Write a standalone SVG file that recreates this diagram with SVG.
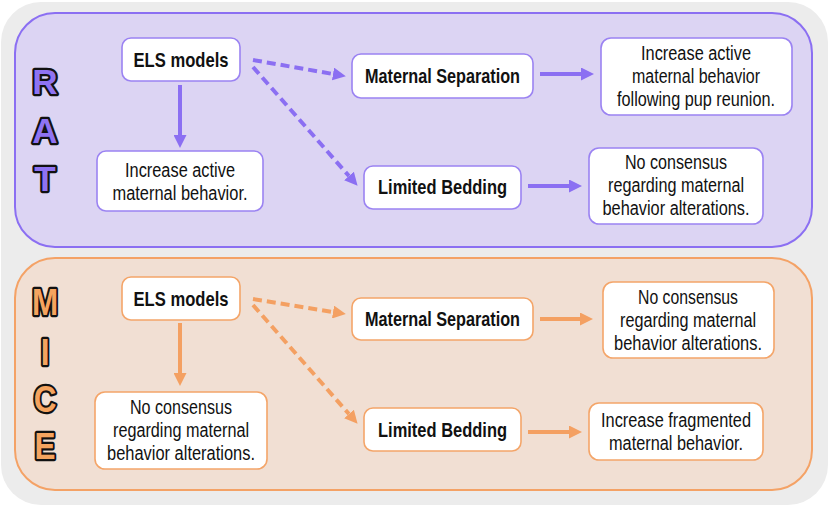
<svg xmlns="http://www.w3.org/2000/svg" width="829" height="507" viewBox="0 0 829 507">
<style>
.bg{fill:#ececec}
.pr{fill:#dcd4f3;stroke:#8b6ff2;stroke-width:2}
.po{fill:#f1dfd3;stroke:#f4a266;stroke-width:2}
.np{fill:#fff;stroke:#9b83f2;stroke-width:1.6}
.no{fill:#fff;stroke:#f4a569;stroke-width:1.6}
text{font-family:"Liberation Sans Narrow","Liberation Sans",Arial,sans-serif;fill:#111;text-anchor:middle}
.b{font-weight:bold;font-size:21px}
.r{font-size:20px}
.big{font-family:"Liberation Sans",Arial,sans-serif;font-weight:bold;stroke:#111;stroke-width:4.5;paint-order:stroke;stroke-linejoin:round}
.lp{fill:#8f73f2;font-size:35px}
.lo{fill:#f5a45f;font-size:37px}
.ap{stroke:#8b6ff2;stroke-width:4;fill:none}
.ao{stroke:#f4a062;stroke-width:4;fill:none}
.d{stroke-dasharray:9 5}
</style>
<defs>
<marker id="hp" markerUnits="userSpaceOnUse" markerWidth="13" markerHeight="13" viewBox="0 0 13 13" refX="0" refY="6.5" orient="auto"><path d="M0,0 L13,6.5 L0,13 z" fill="#8b6ff2"/></marker>
<marker id="ho" markerUnits="userSpaceOnUse" markerWidth="13" markerHeight="13" viewBox="0 0 13 13" refX="0" refY="6.5" orient="auto"><path d="M0,0 L13,6.5 L0,13 z" fill="#f4a062"/></marker>
</defs>
<rect class="bg" x="1" y="2" width="827" height="503" rx="40"/>
<g id="panel-rat">
<rect class="pr" x="15" y="13" width="797" height="234" rx="40"/>
<text class="big lp" x="45" y="94">R</text>
<text class="big lp" x="45" y="143">A</text>
<text class="big lp" x="45" y="191">T</text>
</g>
<g id="panel-mice">
<rect class="po" x="15" y="258" width="797" height="232" rx="40"/>
<g transform="translate(45,0) scale(0.85,1)">
<text class="big lo" x="0" y="315">M</text>
<text class="big lo" x="0" y="365">I</text>
<text class="big lo" x="0" y="412">C</text>
<text class="big lo" x="0" y="459">E</text>
</g>
</g>
<g id="connectors">
<line class="ap" x1="180" y1="85" x2="180" y2="135" marker-end="url(#hp)"/>
<line class="ap d" x1="253" y1="60" x2="333" y2="74" marker-end="url(#hp)"/>
<line class="ap d" x1="253" y1="67" x2="349" y2="176" marker-end="url(#hp)"/>
<line class="ap" x1="540" y1="74" x2="581" y2="74" marker-end="url(#hp)"/>
<line class="ap" x1="528" y1="186" x2="569" y2="186" marker-end="url(#hp)"/>
<line class="ao" x1="180" y1="323" x2="180" y2="373" marker-end="url(#ho)"/>
<line class="ao d" x1="253" y1="299" x2="333" y2="312" marker-end="url(#ho)"/>
<line class="ao d" x1="253" y1="305" x2="349" y2="414" marker-end="url(#ho)"/>
<line class="ao" x1="540" y1="319" x2="580" y2="319" marker-end="url(#ho)"/>
<line class="ao" x1="528" y1="432" x2="569" y2="432" marker-end="url(#ho)"/>
</g>
<g id="rat-els">
<rect class="np" x="122" y="38" width="118" height="43" rx="9"/>
<text class="b" x="181" y="67" textLength="95" lengthAdjust="spacingAndGlyphs">ELS models</text>
</g>
<g id="rat-increase-active">
<rect class="np" x="97" y="151" width="166" height="60" rx="9"/>
<text class="r" x="180" y="177" textLength="110" lengthAdjust="spacingAndGlyphs">Increase active</text>
<text class="r" x="180" y="200" textLength="135" lengthAdjust="spacingAndGlyphs">maternal behavior.</text>
</g>
<g id="rat-ms">
<rect class="np" x="352" y="54" width="181" height="44" rx="9"/>
<text class="b" x="442.5" y="83" textLength="155" lengthAdjust="spacingAndGlyphs">Maternal Separation</text>
</g>
<g id="rat-ms-result">
<rect class="np" x="601" y="38" width="191" height="77" rx="10"/>
<text class="r" x="696" y="60" textLength="110" lengthAdjust="spacingAndGlyphs">Increase active</text>
<text class="r" x="696" y="83" textLength="128" lengthAdjust="spacingAndGlyphs">maternal behavior</text>
<text class="r" x="696" y="106" textLength="158" lengthAdjust="spacingAndGlyphs">following pup reunion.</text>
</g>
<g id="rat-lb">
<rect class="np" x="364" y="166" width="157" height="43" rx="9"/>
<text class="b" x="442.5" y="194" textLength="129" lengthAdjust="spacingAndGlyphs">Limited Bedding</text>
</g>
<g id="rat-lb-result">
<rect class="np" x="589" y="148" width="174" height="76" rx="10"/>
<text class="r" x="676" y="169" textLength="102" lengthAdjust="spacingAndGlyphs">No consensus</text>
<text class="r" x="676" y="192" textLength="136" lengthAdjust="spacingAndGlyphs">regarding maternal</text>
<text class="r" x="676" y="215" textLength="147" lengthAdjust="spacingAndGlyphs">behavior alterations.</text>
</g>
<g id="mice-els">
<rect class="no" x="122" y="277" width="118" height="43" rx="9"/>
<text class="b" x="181" y="306" textLength="95" lengthAdjust="spacingAndGlyphs">ELS models</text>
</g>
<g id="mice-no-consensus">
<rect class="no" x="95" y="392" width="172" height="77" rx="10"/>
<text class="r" x="181" y="414" textLength="102" lengthAdjust="spacingAndGlyphs">No consensus</text>
<text class="r" x="181" y="437" textLength="136" lengthAdjust="spacingAndGlyphs">regarding maternal</text>
<text class="r" x="181" y="460" textLength="148" lengthAdjust="spacingAndGlyphs">behavior alterations.</text>
</g>
<g id="mice-ms">
<rect class="no" x="352" y="298" width="181" height="42" rx="9"/>
<text class="b" x="442.5" y="326" textLength="155" lengthAdjust="spacingAndGlyphs">Maternal Separation</text>
</g>
<g id="mice-ms-result">
<rect class="no" x="603" y="282" width="171" height="76" rx="10"/>
<text class="r" x="688" y="304" textLength="100" lengthAdjust="spacingAndGlyphs">No consensus</text>
<text class="r" x="688" y="327" textLength="136" lengthAdjust="spacingAndGlyphs">regarding maternal</text>
<text class="r" x="688" y="350" textLength="148" lengthAdjust="spacingAndGlyphs">behavior alterations.</text>
</g>
<g id="mice-lb">
<rect class="no" x="364" y="408" width="157" height="43" rx="9"/>
<text class="b" x="442.5" y="437" textLength="129" lengthAdjust="spacingAndGlyphs">Limited Bedding</text>
</g>
<g id="mice-lb-result">
<rect class="no" x="589" y="403" width="174" height="57" rx="10"/>
<text class="r" x="676" y="427" textLength="150" lengthAdjust="spacingAndGlyphs">Increase fragmented</text>
<text class="r" x="676" y="450" textLength="134" lengthAdjust="spacingAndGlyphs">maternal behavior.</text>
</g>
</svg>
